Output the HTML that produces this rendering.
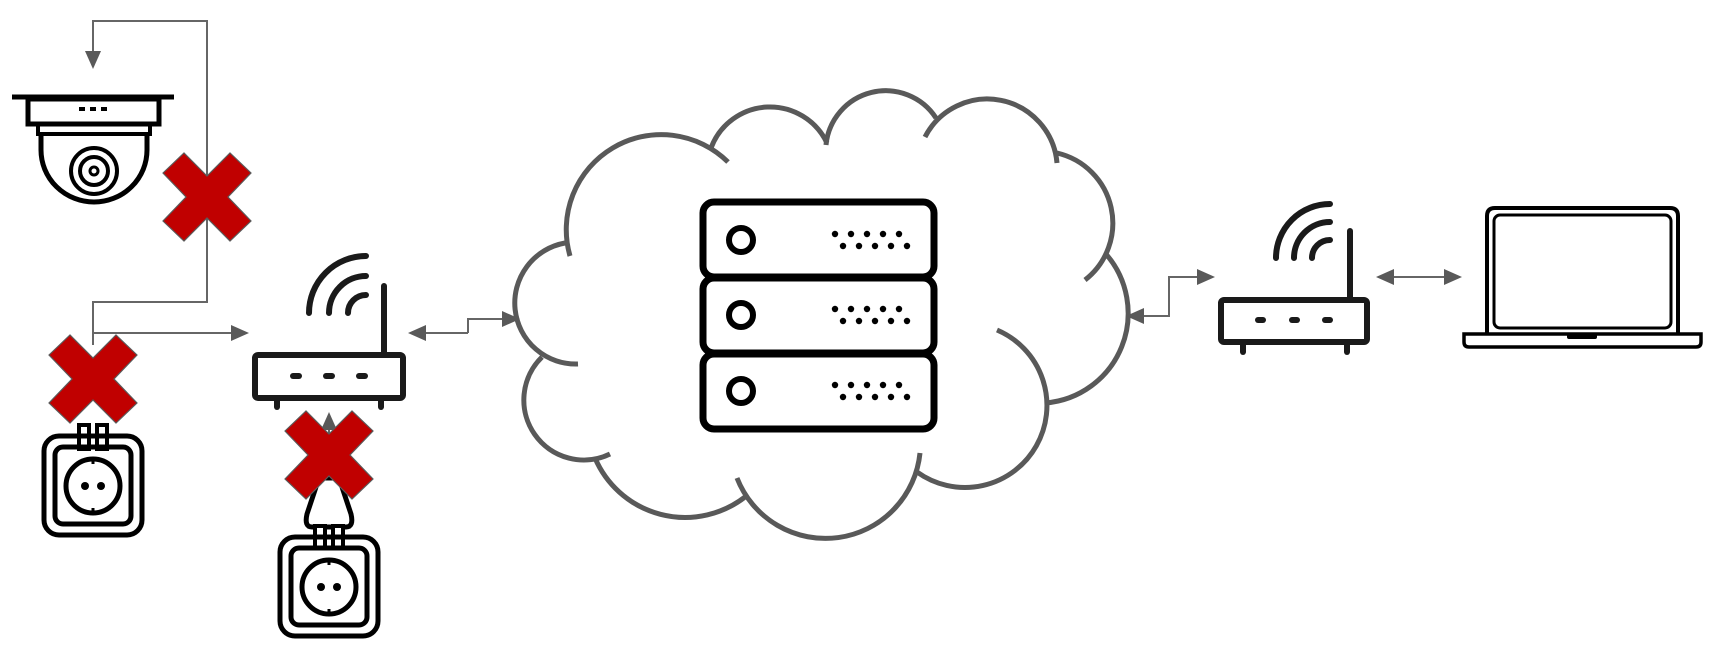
<!DOCTYPE html>
<html><head><meta charset="utf-8"><style>html,body{margin:0;padding:0;background:#fff}svg{display:block}</style></head>
<body>
<svg width="1724" height="654" viewBox="0 0 1724 654" xmlns="http://www.w3.org/2000/svg">
<defs>
<g id="xm"><polygon points="-44,-24 -23,-44 0,-21 23,-44 44,-24 21,0 44,24 23,44 0,21 -23,44 -44,24 -21,0" fill="#c00000" stroke="#5a5a5a" stroke-width="1.2"/></g>
<g id="sock" fill="none" stroke="#000" stroke-width="5">
<rect x="-49" y="0" width="98" height="99" rx="15"/>
<rect x="-38" y="11" width="76" height="77" rx="8"/>
<circle cx="0" cy="50" r="27"/>
<circle cx="-8" cy="50" r="4" fill="#000" stroke="none"/>
<circle cx="8" cy="50" r="4" fill="#000" stroke="none"/>
<line x1="0" y1="21" x2="0" y2="28" stroke-width="3"/>
<line x1="0" y1="72" x2="0" y2="79" stroke-width="3"/>
</g>
</defs>

<!-- connectors -->
<g stroke="#666" stroke-width="2" fill="none">
<polyline points="207,240 207,21 93,21 93,52"/>
<polyline points="207,240 207,302 93,302 93,345"/>
<line x1="93" y1="333" x2="232" y2="333"/>
<line x1="425" y1="333" x2="468" y2="333"/>
<polyline points="468,333 468,319 502,319"/>
<polyline points="1143,316 1169,316 1169,277 1197,277"/>
<line x1="1393" y1="277" x2="1444" y2="277"/>
<line x1="329" y1="428" x2="329" y2="470"/>
</g>
<g fill="#595959">
<polygon points="93,69 85,51 101,51"/>
<polygon points="249,333 231,325 231,341"/>
<polygon points="408,333 426,325 426,341"/>
<polygon points="520,319 502,311 502,327"/>
<polygon points="1126,316 1144,308 1144,324"/>
<polygon points="1215,277 1197,269 1197,285"/>
<polygon points="1376,277 1394,269 1394,285"/>
<polygon points="1462,277 1444,269 1444,285"/>
<polygon points="329,412 321,430 337,430"/>
</g>

<!-- camera -->
<g fill="none" stroke="#000" stroke-width="5">
<line x1="12" y1="97" x2="174" y2="97"/>
<rect x="28" y="99" width="131" height="25"/>
<rect x="38" y="124" width="112" height="10" stroke-width="4"/>
<path d="M41 134 V150 A53 52 0 0 0 147 150 V134"/>
<circle cx="94" cy="171" r="23" stroke-width="4"/>
<circle cx="94" cy="171" r="14" stroke-width="4"/>
<circle cx="94" cy="171" r="4" stroke-width="3"/>
</g>
<rect x="79" y="107" width="6" height="4" fill="#000"/>
<rect x="90" y="107" width="6" height="4" fill="#000"/>
<rect x="101" y="107" width="6" height="4" fill="#000"/>

<!-- socket 1 with plug -->
<g fill="#fff" stroke="#000" stroke-width="4">
<rect x="79" y="425" width="10" height="24"/>
<rect x="97" y="425" width="10" height="24"/>
</g>
<use href="#sock" x="93" y="436"/>

<!-- router 1 -->
<g fill="none" stroke="#1a1a1a" stroke-width="6" stroke-linecap="round">
<rect x="255" y="355" width="148" height="43" rx="3"/>
<line x1="384" y1="286" x2="384" y2="353"/>
<line x1="277" y1="400" x2="277" y2="407"/>
<line x1="381" y1="400" x2="381" y2="407"/>
<path d="M309 313 A57 57 0 0 1 366 256"/>
<path d="M329 313 A37 37 0 0 1 366 276"/>
<path d="M348 313 A18 18 0 0 1 366 295"/>
<line x1="293" y1="376" x2="299" y2="376"/>
<line x1="326" y1="376" x2="332" y2="376"/>
<line x1="359" y1="376" x2="365" y2="376"/>
</g>

<!-- plug 2 + socket 2 -->
<path d="M319 478 L307 514 Q304 527 312 527 L346 527 Q354 527 351 514 L339 478 Z" fill="#fff" stroke="#000" stroke-width="5"/>
<g fill="#fff" stroke="#000" stroke-width="4">
<rect x="315" y="526" width="10" height="22"/>
<rect x="333" y="526" width="10" height="22"/>
</g>
<use href="#sock" x="329" y="537"/>

<!-- red X marks -->
<use href="#xm" x="207" y="197"/>
<use href="#xm" x="93" y="379"/>
<use href="#xm" x="329" y="455"/>

<!-- cloud -->
<g fill="none" stroke="#595959" stroke-width="5">
<path d="M570 256 A95 95 0 0 1 728 162"/>
<path d="M711 148 A63 63 0 0 1 827 143"/>
<path d="M826 145 A60 60 0 0 1 936 118"/>
<path d="M925 137 A70 70 0 0 1 1057 163"/>
<path d="M1057 153 A72 72 0 0 1 1085 280"/>
<path d="M1105 253 A90 90 0 0 1 1045 403"/>
<path d="M997 330 A82 82 0 1 1 917 472"/>
<path d="M920 453 A95 95 0 0 1 737 478"/>
<path d="M745 497 A98 98 0 0 1 595 458"/>
<path d="M610 454 A60 60 0 0 1 542 357"/>
<path d="M578 364 A61 61 0 0 1 565 243"/>
</g>

<!-- server -->
<g fill="none" stroke="#000" stroke-width="7">
<rect x="703" y="202" width="231" height="75" rx="11"/>
<rect x="703" y="278" width="231" height="75" rx="11"/>
<rect x="703" y="354" width="231" height="75" rx="11"/>
<circle cx="741" cy="240" r="12" stroke-width="6"/>
<circle cx="741" cy="315" r="12" stroke-width="6"/>
<circle cx="741" cy="391" r="12" stroke-width="6"/>
</g>
<g fill="#000">
<g id="dots">
<circle cx="835" cy="234" r="3.2"/><circle cx="851" cy="234" r="3.2"/><circle cx="867" cy="234" r="3.2"/><circle cx="883" cy="234" r="3.2"/><circle cx="899" cy="234" r="3.2"/>
<circle cx="843" cy="246" r="3.2"/><circle cx="859" cy="246" r="3.2"/><circle cx="875" cy="246" r="3.2"/><circle cx="891" cy="246" r="3.2"/><circle cx="907" cy="246" r="3.2"/>
</g>
<use href="#dots" y="75"/>
<use href="#dots" y="151"/>
</g>

<!-- router 2 -->
<g fill="none" stroke="#1a1a1a" stroke-width="6" stroke-linecap="round">
<rect x="1221" y="300" width="146" height="42" rx="3"/>
<line x1="1350" y1="231" x2="1350" y2="298"/>
<line x1="1243" y1="344" x2="1243" y2="352"/>
<line x1="1347" y1="344" x2="1347" y2="352"/>
<path d="M1276 258 A54 54 0 0 1 1330 204"/>
<path d="M1294 258 A36 36 0 0 1 1330 222"/>
<path d="M1312 258 A18 18 0 0 1 1330 240"/>
<line x1="1258" y1="320" x2="1263" y2="320"/>
<line x1="1292" y1="320" x2="1297" y2="320"/>
<line x1="1325" y1="320" x2="1330" y2="320"/>
</g>

<!-- laptop -->
<g fill="none" stroke="#000">
<path d="M1487 334 V216 Q1487 208 1495 208 H1670 Q1678 208 1678 216 V334" stroke-width="4"/>
<rect x="1494" y="215" width="177" height="113" rx="6" stroke-width="3"/>
<path d="M1464 334 H1701 V342 Q1701 347 1696 347 H1469 Q1464 347 1464 342 Z" stroke-width="3.5"/>
</g>
<rect x="1567" y="334" width="30" height="5" rx="2" fill="#000"/>
</svg>
</body></html>
